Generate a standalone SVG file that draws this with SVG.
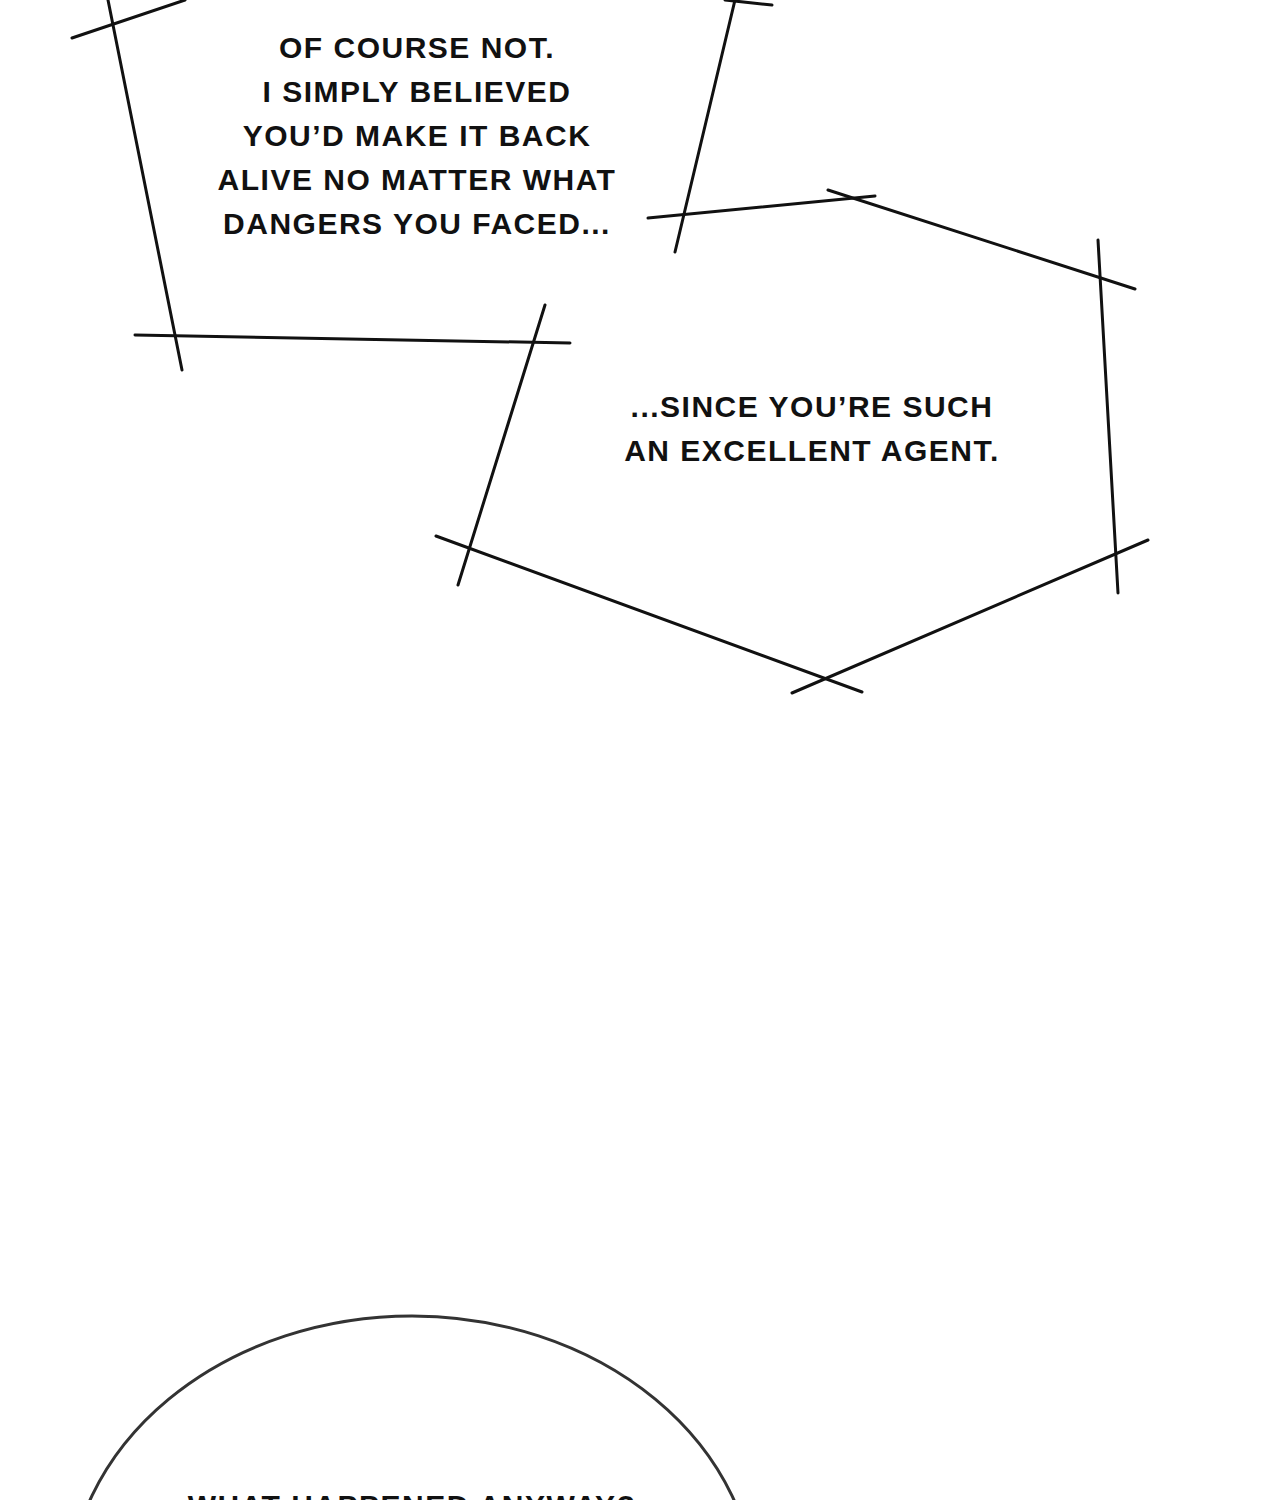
<svg xmlns="http://www.w3.org/2000/svg" width="1280" height="1500" viewBox="0 0 1280 1500">
<style>
.l{stroke:#111;stroke-width:3;fill:none;stroke-linecap:round}
.t{font-family:"Liberation Sans",Arial,sans-serif;font-weight:bold;font-size:30px;fill:#111;text-anchor:middle;letter-spacing:1.5px}
</style>
<rect width="1280" height="1500" fill="#fff"/>
<g id="box1">
<line class="l" x1="72" y1="38" x2="185" y2="0"/>
<line class="l" x1="108" y1="0" x2="182" y2="370"/>
<line class="l" x1="135" y1="335" x2="570" y2="343"/>
<line class="l" x1="735" y1="0" x2="675" y2="252"/>
<line class="l" x1="648" y1="218" x2="875" y2="196"/>
<line class="l" x1="725" y1="0" x2="772" y2="5"/>
<text class="t" x="417" y="58">OF COURSE NOT.</text>
<text class="t" x="417" y="102">I SIMPLY BELIEVED</text>
<text class="t" x="417" y="146">YOU’D MAKE IT BACK</text>
<text class="t" x="417" y="190">ALIVE NO MATTER WHAT</text>
<text class="t" x="417" y="234">DANGERS YOU FACED...</text>
</g>
<g id="box2">
<line class="l" x1="545" y1="305" x2="458" y2="585"/>
<line class="l" x1="828" y1="190" x2="1135" y2="289"/>
<line class="l" x1="1098" y1="240" x2="1118" y2="593"/>
<line class="l" x1="1148" y1="540" x2="792" y2="693"/>
<line class="l" x1="436" y1="536" x2="862" y2="692"/>
<text class="t" x="812" y="417">...SINCE YOU’RE SUCH</text>
<text class="t" x="812" y="461">AN EXCELLENT AGENT.</text>
</g>
<g id="bubble">
<ellipse cx="412" cy="1600" rx="344" ry="284" fill="#fff" stroke="#333" stroke-width="3"/>
<text class="t" x="412" y="1516">WHAT HAPPENED ANYWAY?</text>
</g>
</svg>
